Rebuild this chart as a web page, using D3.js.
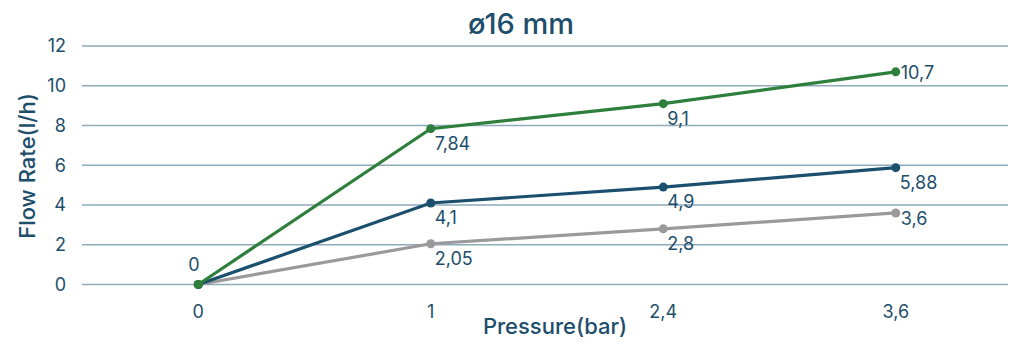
<!DOCTYPE html>
<meta charset="utf-8">
<script src="https://d3js.org/d3.v7.min.js"></script>
<style>
  body { margin: 0; background: #fff; }
  text { font-family: Inter, "Open Sans", sans-serif; fill: #1d4e6b; }
</style>
<div id="my_dataviz"></div>
<script>

// data
var pressures = ["0", "1", "2,4", "3,6"];
var greenValues = [0, 7.84, 9.1, 10.7];
var blueValues = [0, 4.1, 4.9, 5.88];
var greyValues = [0, 2.05, 2.8, 3.6];
var greenLabels = ["0", "7,84", "9,1", "10,7"];
var blueLabels = ["", "4,1", "4,9", "5,88"];
var greyLabels = ["", "2,05", "2,8", "3,6"];
var yTicks = [0, 2, 4, 6, 8, 10, 12];

var series = [
  { values: greyValues, labels: greyLabels, color: "#9a9a9c" },
  { values: blueValues, labels: blueLabels, color: "#1b4f6e" },
  { values: greenValues, labels: greenLabels, color: "#2e7f3c" }
];

// where each value label sits relative to its point
var labelPlace = {
  "#2e7f3c": ["above", "below", "below", "right"],
  "#1b4f6e": ["below", "below", "below", "below"],
  "#9a9a9c": ["below", "below", "below", "right"]
};

var width = 1024, height = 353;
var margin = {top: 46, right: 16, bottom: 68, left: 82};

var svg = d3.select("#my_dataviz")
  .append("svg")
    .attr("width", width)
    .attr("height", height);

var x = d3.scalePoint()
  .domain(pressures)
  .range([margin.left, width - margin.right + 4])
  .padding(0.5);

var y = d3.scaleLinear()
  .domain([0, 12])
  .range([height - margin.bottom - 0.5, margin.top]);

// grid lines
svg.append("g")
  .selectAll("line")
  .data(yTicks)
  .enter().append("line")
    .attr("x1", margin.left)
    .attr("x2", width - margin.right)
    .attr("y1", function(d) { return y(d); })
    .attr("y2", function(d) { return y(d); })
    .attr("stroke", "#8eaabb")
    .attr("stroke-width", 1.5);

// y tick labels
svg.append("g")
  .selectAll("text")
  .data(yTicks)
  .enter().append("text")
    .attr("x", 66)
    .attr("y", function(d) { return y(d); })
    .attr("dy", "0.35em")
    .attr("text-anchor", "end")
    .style("font-size", "18px")
    .text(function(d) { return d; });

// x tick labels
svg.append("g")
  .selectAll("text")
  .data(pressures)
  .enter().append("text")
    .attr("x", function(d) { return x(d); })
    .attr("y", 318)
    .attr("text-anchor", "middle")
    .style("font-size", "18px")
    .text(function(d) { return d; });

// lines, points and labels
var line = d3.line()
  .x(function(d, i) { return x(pressures[i]); })
  .y(function(d) { return y(d); });

series.forEach(function(s) {
  svg.append("path")
    .datum(s.values)
    .attr("fill", "none")
    .attr("stroke", s.color)
    .attr("stroke-width", 3.2)
    .attr("d", line);

  svg.append("g")
    .selectAll("circle")
    .data(s.values)
    .enter().append("circle")
      .attr("cx", function(d, i) { return x(pressures[i]); })
      .attr("cy", function(d) { return y(d); })
      .attr("r", 4.5)
      .attr("fill", s.color);

  svg.append("g")
    .selectAll("text")
    .data(s.values)
    .enter().append("text")
      .attr("x", function(d, i) {
        var p = labelPlace[s.color][i];
        if (p == "above") return x(pressures[i]) - 10;
        if (p == "right") return x(pressures[i]) + 5;
        return x(pressures[i]) + 4;
      })
      .attr("y", function(d, i) {
        var p = labelPlace[s.color][i];
        if (p == "above") return y(d) - 14;
        if (p == "right") return y(d) + (d < 5 ? 12 : 7);
        return y(d) + 21;
      })
      .style("font-size", "18px")
      .text(function(d, i) { return s.labels[i]; });
});

// titles
svg.append("text")
  .attr("x", 521).attr("y", 34)
  .attr("text-anchor", "middle")
  .style("font-size", "29px")
  .style("font-weight", "500")
  .text("ø16 mm");

svg.append("text")
  .attr("x", 555).attr("y", 334)
  .attr("text-anchor", "middle")
  .style("font-size", "22px")
  .style("font-weight", "500")
  .text("Pressure(bar)");

svg.append("text")
  .attr("transform", "translate(35,166) rotate(-90)")
  .attr("text-anchor", "middle")
  .style("font-size", "22px")
  .style("font-weight", "500")
  .text("Flow Rate(l/h)");

</script>
